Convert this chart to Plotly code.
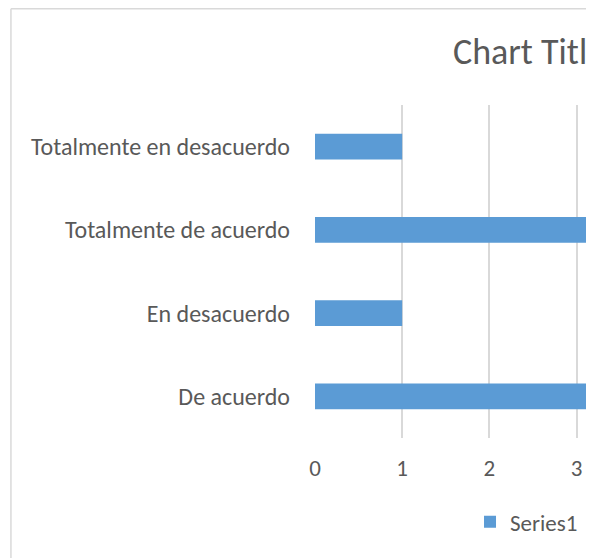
import plotly.graph_objects as go

# Data (bottom to top, as Excel draws it)
categories = ["De acuerdo", "En desacuerdo", "Totalmente de acuerdo", "Totalmente en desacuerdo"]
values = [7, 1, 5, 1]
x_ticks = [0, 1, 2, 3]
title_text = "Chart Title"
series_name = "Series1"

font_family = "Carlito, Calibri, Lato, sans-serif"
grey = "#595959"
border = "#d9d9d9"

fig = go.Figure()

# Bars
fig.add_trace(go.Bar(
    y=categories,
    x=values,
    orientation="h",
    name=series_name,
    marker=dict(color="#5b9bd5", line=dict(width=0)),
    showlegend=True
))

# Title lives in its own clipped subplot so it gets cut at the chart edge
fig.add_trace(go.Scatter(
    x=[0.7897], y=[0.45],
    mode="text",
    text=[title_text],
    textfont=dict(family=font_family, size=36, color=grey),
    cliponaxis=True,
    showlegend=False,
    hoverinfo="skip",
    xaxis="x2", yaxis="y2"
))

fig.update_layout(
    width=595,
    height=558,
    margin=dict(l=307, r=17, t=0, b=128),
    paper_bgcolor="white",
    plot_bgcolor="white",
    font=dict(family=font_family, size=24, color=grey),
    bargap=0.69,
    xaxis=dict(
        range=[0, 3.108],
        tickvals=x_ticks,
        tickfont=dict(size=23),
        showgrid=True,
        gridcolor=border,
        gridwidth=1.5,
        zeroline=False,
        showline=False,
        ticks="",
        ticklabelstandoff=14,
        fixedrange=True
    ),
    yaxis=dict(
        domain=[0, 0.7744],
        range=[-0.5, 3.5],
        showgrid=False,
        zeroline=False,
        showline=False,
        ticks="",
        ticklabelstandoff=24,
        fixedrange=True
    ),
    xaxis2=dict(domain=[0, 1], range=[0, 1], visible=False, anchor="y2"),
    yaxis2=dict(domain=[0.8, 1], range=[0, 1], visible=False, anchor="x2"),
    legend=dict(
        orientation="h",
        x=0.572, xanchor="left",
        y=-0.195, yanchor="middle",
        font=dict(family=font_family, size=23, color=grey),
        itemwidth=30
    ),
    shapes=[
        # chart area border (left and top edges visible)
        dict(type="line", xref="paper", yref="paper",
             x0=-1.122, x1=-1.122, y0=0.998, y1=-0.31,
             line=dict(color=border, width=1.5)),
        dict(type="line", xref="paper", yref="paper",
             x0=-1.122, x1=1.0, y0=0.998, y1=0.998,
             line=dict(color=border, width=1.5)),
    ]
)

fig.write_html("out.html")
